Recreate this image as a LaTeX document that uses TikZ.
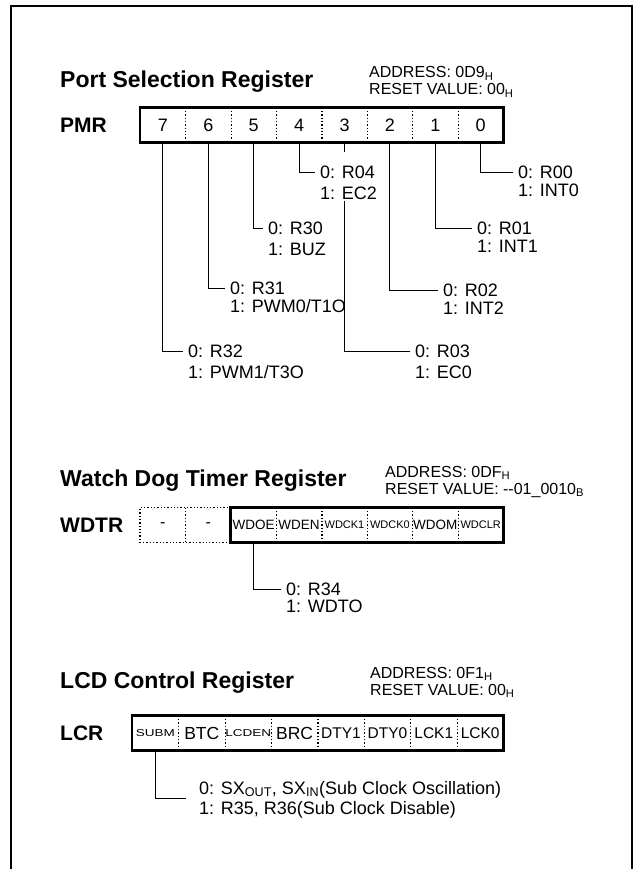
\documentclass[tikz,border=0pt]{standalone}
\usepackage{fontspec}
\setmainfont{Liberation Sans}
\usepackage{graphicx}
\usetikzlibrary{positioning}

\newcommand\fsz[1]{\fontsize{#1}{#1}\selectfont}
\newcommand\widesmall[1]{\scalebox{1.35}[1]{\fsz{10}#1}}

\begin{document}
\begin{tikzpicture}[
    x=1pt, y=-1pt,
    regtitle/.style={anchor=base west, inner sep=0pt, font=\fsz{23}\bfseries},
    regname/.style={anchor=base west, inner sep=0pt, font=\fsz{21}\bfseries},
    regaddr/.style={anchor=base west, inner sep=0pt, font=\fsz{16}},
    bitcell/.style={anchor=west, minimum width=45.4pt, minimum height=34pt, inner sep=0pt, font=\fsz{18}},
    regbox/.style={line width=2.7pt},
    bitsep/.style={dotted, line width=1.3pt},
    leadline/.style={line width=0.9pt},
    bitnote/.style={anchor=west, inner xsep=5pt, inner ysep=1pt, font=\fsz{18}}
]
\useasboundingbox (0,0) rectangle (638,869);
\draw[line width=2.6pt] (11,869) -- (11,6) -- (632,6) -- (632,869);

% Port Selection Register
\node[regtitle] (pmrtitle) at (60,88) {Port Selection Register};
\node[regaddr] (pmraddr) at (369,78) {ADDRESS: 0D9\textsubscript{H}};
\node[regaddr] (pmrreset) at (369,95) {RESET VALUE: 00\textsubscript{H}};
\node[regname] (pmrname) at (60,132.5) {PMR};
\foreach \b [count=\i from 0] in {7,...,0}
    \node[bitcell] (pmr\b) at (140+45.4*\i,125) {\b};
\draw[regbox] (pmr7.north west) rectangle (pmr0.south east);
\foreach \b in {7,...,1}
    \draw[bitsep] (pmr\b.north east) -- (pmr\b.south east);

\node[bitnote] (r00) at (513,172) {0: R00};
\node[bitnote, below right=3pt and 0pt of r00.south west] (int0) {1: INT0};
\node[bitnote] (r01) at (472,228) {0: R01};
\node[bitnote, below right=3pt and 0pt of r01.south west] (int1) {1: INT1};
\node[bitnote] (r02) at (438,290) {0: R02};
\node[bitnote, below right=3pt and 0pt of r02.south west] (int2) {1: INT2};
\node[bitnote] (r03) at (410,351) {0: R03};
\node[bitnote, below right=6pt and 0pt of r03.south west] (ec0) {1: EC0};
\node[bitnote] (r04) at (315,172) {0: R04};
\node[bitnote, below right=6pt and 0pt of r04.south west] (ec2) {1: EC2};
\node[bitnote] (r30) at (263,228) {0: R30};
\node[bitnote, below right=6pt and 0pt of r30.south west] (buz) {1: BUZ};
\node[bitnote] (r31) at (225,288) {0: R31};
\node[bitnote, below right=3pt and 0pt of r31.south west] (pwm0) {1: PWM0/T1O};
\node[bitnote] (r32) at (183,351) {0: R32};
\node[bitnote, below right=6pt and 0pt of r32.south west] (pwm1) {1: PWM1/T3O};

\foreach \b/\n in {0/r00, 1/r01, 2/r02, 4/r04, 5/r30, 6/r31, 7/r32}
    \draw[leadline] (pmr\b.south) |- (\n.west);
\draw[leadline] (pmr3.south) -- ++(0,10);
\draw[leadline] (pmr3.south |- ec2.south) |- (r03.west);

% Watch Dog Timer Register
\node[regtitle] (wdttitle) at (60,486) {Watch Dog Timer Register};
\node[regaddr] (wdtaddr) at (385,477) {ADDRESS: 0DF\textsubscript{H}};
\node[regaddr] (wdtreset) at (385,494) {RESET VALUE: {-}{-}01\_0010\textsubscript{B}};
\node[regname] (wdtname) at (60,532.5) {WDTR};
\foreach \b/\txt/\sz [count=\i from 0] in {7/-/16, 6/-/16, 5/WDOE/13.5, 4/WDEN/13.5, 3/WDCK1/11, 2/WDCK0/11, 1/WDOM/13.5, 0/WDCLR/11}
    \node[bitcell, font=\fsz{\sz}] (wdtr\b) at (140+45.4*\i,525) {\txt};
\draw[regbox] (wdtr5.north west) rectangle (wdtr0.south east);
\draw[bitsep] (wdtr6.north east) -| (wdtr7.south west) -- (wdtr6.south east);
\foreach \b in {7,5,4,3,2,1}
    \draw[bitsep] (wdtr\b.north east) -- (wdtr\b.south east);

\node[bitnote] (r34) at (281,589) {0: R34};
\node[bitnote, below right=2pt and 0pt of r34.south west] (wdto) {1: WDTO};
\draw[leadline] (wdtr5.south) |- (r34.west);

% LCD Control Register
\node[regtitle] (lcdtitle) at (60,688) {LCD Control Register};
\node[regaddr] (lcdaddr) at (370,678) {ADDRESS: 0F1\textsubscript{H}};
\node[regaddr] (lcdreset) at (370,695) {RESET VALUE: 00\textsubscript{H}};
\node[regname] (lcdname) at (60,740.5) {LCR};
\foreach \b/\txt [count=\i from 0] in {7/\widesmall{SUBM}, 6/\fsz{17.5}BTC, 5/\widesmall{LCDEN}, 4/\fsz{17.5}BRC, 3/\fsz{15.5}DTY1, 2/\fsz{15.5}DTY0, 1/\fsz{15.5}LCK1, 0/\fsz{15.5}LCK0}
    \node[bitcell, minimum width=46.4pt] (lcr\b) at (132+46.4*\i,733) {\txt};
\draw[regbox] (lcr7.north west) rectangle (lcr0.south east);
\foreach \b in {7,...,1}
    \draw[bitsep] (lcr\b.north east) -- (lcr\b.south east);

\node[bitnote, inner xsep=13pt, anchor=base west] (sxout) at (186,794) {0: SX\textsubscript{OUT}, SX\textsubscript{IN}(Sub Clock Oscillation)};
\node[bitnote, inner xsep=13pt, below right=1.5pt and 0pt of sxout.south west] (r35) {1: R35, R36(Sub Clock Disable)};
\draw[leadline] (lcr7.south) |- (sxout.south west);

\end{tikzpicture}
\end{document}
